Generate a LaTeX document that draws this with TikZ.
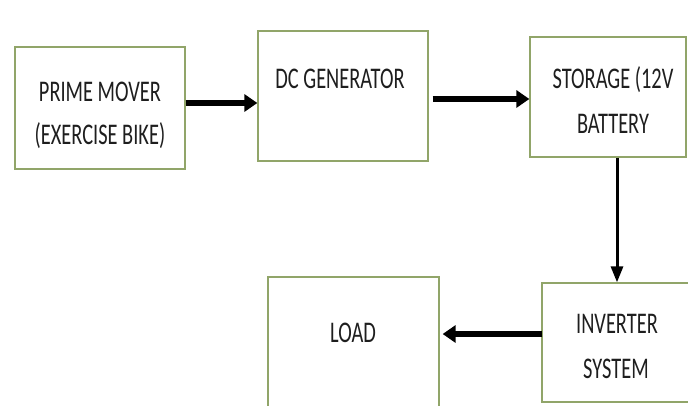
\documentclass[tikz,border=0pt]{standalone}
\usepackage{fontspec}
\setmainfont{Carlito}[FakeStretch=0.68]
\usetikzlibrary{arrows.meta}
\definecolor{boxline}{RGB}{145,165,105}
\definecolor{txt}{RGB}{30,30,30}
\begin{document}
\begin{tikzpicture}[x=1pt,y=-1pt,
  blk/.style={draw=boxline,line width=1.3pt,fill=white,minimum width=#1,inner sep=0pt},
  lbl/.style={anchor=base,text=txt,font=\fontsize{30}{32}\selectfont,inner sep=0pt},
  bigarrow/.style={line width=6.5pt,-{Triangle[width=17pt,length=13pt]}},
  thinarrow/.style={line width=3pt,-{Triangle[width=12pt,length=16pt]}}]
\useasboundingbox (0,0) rectangle (688,406);
\fill[white] (0,0) rectangle (688,406);
% boxes
\node[blk=170pt,minimum height=122pt] (pm) at (100,108) {};
\node[blk=170pt,minimum height=130pt] (dc) at (343,96) {};
\node[blk=156pt,minimum height=120pt] (st) at (608,97) {};
\node[blk=180pt,minimum height=119pt] (inv) at (632,342.5) {};
\node[blk=171pt,minimum height=143pt] (ld) at (353.5,348.5) {};
% labels
\node[lbl] (pm1) at (100,102) {PRIME MOVER};
\node[lbl] (pm2) at (100,145) {(EXERCISE BIKE)};
\node[lbl] (dc1) at (340,89) {DC GENERATOR};
\node[lbl] (st1) at (613,89) {STORAGE (12V};
\node[lbl] (st2) at (613,134) {BATTERY};
\node[lbl] (inv1) at (617,333) {INVERTER};
\node[lbl] (inv2) at (616,378) {SYSTEM};
\node[lbl] (ld1) at (353,342) {LOAD};
% connectors
\coordinate (a1s) at (pm.east |- 0,103);
\coordinate (a1e) at (dc.west |- 0,103);
\draw[bigarrow] (a1s) -- (a1e);
\coordinate (a2s) at ([xshift=4pt]dc.east |- 0,99);
\coordinate (a2e) at (st.west |- 0,99);
\draw[bigarrow] (a2s) -- (a2e);
\coordinate (a3s) at (617,0 |- st.south);
\coordinate (a3e) at (617,0 |- inv.north);
\draw[thinarrow] (a3s) -- (a3e);
\coordinate (a4s) at ([xshift=1pt]inv.west |- 0,334);
\coordinate (a4e) at ([xshift=3pt]ld.east |- 0,334);
\draw[bigarrow] (a4s) -- (a4e);
\end{tikzpicture}
\end{document}
